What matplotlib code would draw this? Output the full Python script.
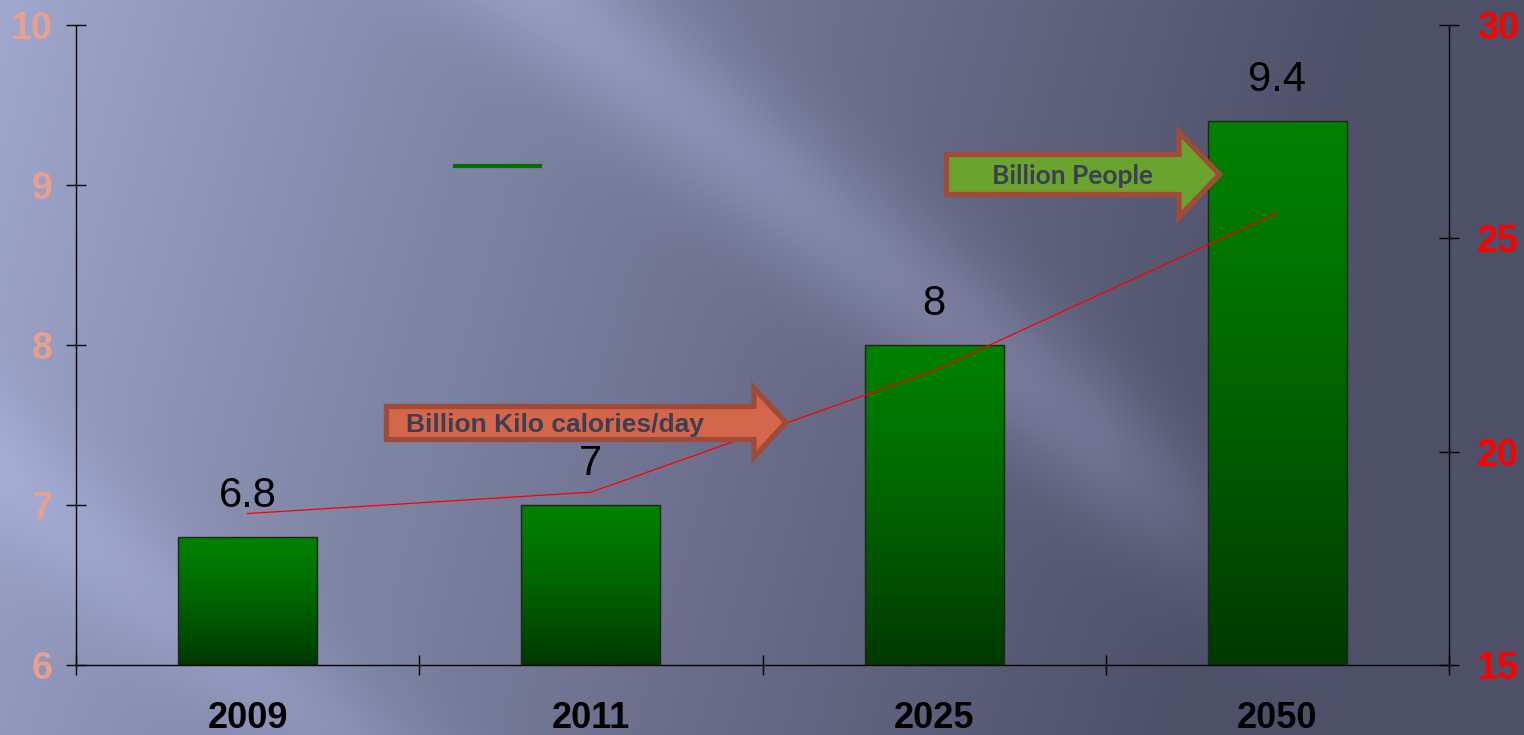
import numpy as np
import matplotlib
matplotlib.use("Agg")
import matplotlib.pyplot as plt
from matplotlib.patches import Polygon
from matplotlib.lines import Line2D

plt.rcParams['font.family'] = ['Liberation Sans', 'DejaVu Sans']

# -----------------------------
# Data
# -----------------------------
years = ["2009", "2011", "2025", "2050"]
people = [6.8, 7, 8, 9.4]            # billion people (left axis)
kcal = [18.55, 19.05, 21.9, 25.6]    # billion kilo calories / day (right axis)
people_ticks = [6, 7, 8, 9, 10]
kcal_ticks = [15, 20, 25, 30]

W, H = 1524, 735
fig = plt.figure(figsize=(W / 100, H / 100), dpi=100)

# -----------------------------
# Background (slide style gradient with diagonal streaks)
# -----------------------------
yy, xx = np.mgrid[0:H, 0:W].astype(float)
light = np.array([160, 168, 205]) / 255
dark = np.array([78, 80, 104]) / 255
t = np.clip(xx / W * 1.1 + yy / H * 0.15, 0, 1) ** 0.9
img = light + (dark - light) * t[..., None]
s = 0.8 * xx - yy
band1 = np.exp(-((s - 440) / 85) ** 2) * np.clip((1350 - xx) / 250, 0, 1)
band2 = np.exp(-((s + 470) / 80) ** 2)
img += band1[..., None] * np.array([0.10, 0.10, 0.12])
img += band2[..., None] * np.array([0.06, 0.06, 0.08])
img = np.clip(img, 0, 1)

bg = fig.add_axes([0, 0, 1, 1], zorder=-10)
bg.imshow(img, aspect='auto', extent=[0, W, H, 0])
bg.axis('off')

# -----------------------------
# Bars (left axis)
# -----------------------------
ax = fig.add_axes([76 / W, 70 / H, (1449 - 76) / W, (665 - 25) / H])
ax.set_facecolor('none')
x = np.arange(len(years))
bars = ax.bar(x, people, width=0.405, facecolor='none', edgecolor='#1c261c',
              linewidth=1, zorder=3)

# vertical green gradient inside each bar
g = np.linspace(0, 1, 256) ** 1.3
top = np.array([0, 128, 0]) / 255
bot = np.array([0, 56, 0]) / 255
grad = (top + (bot - top) * g[:, None])[:, None, :]
for b in bars:
    ax.imshow(grad, extent=[b.get_x(), b.get_x() + b.get_width(), 6, b.get_height()],
              aspect='auto', zorder=2, origin='upper')

for xi, v in zip(x, people):
    ax.annotate(f'{v:g}', (xi, v), xytext=(0, 21.6), textcoords='offset points',
                ha='center', va='baseline', fontsize=30, color='black')

ax.set_xlim(-0.5, 3.5)
ax.set_ylim(6, 10)
ax.set_xticks(x)
ax.set_xticklabels(years, fontsize=26, fontweight='bold')
ax.tick_params(axis='x', which='major', length=0, pad=26)
ax.set_xticks([-0.5, 0.5, 1.5, 2.5, 3.5], minor=True)
ax.tick_params(axis='x', which='minor', direction='inout', length=14, width=1)
ax.set_yticks(people_ticks)
ax.tick_params(axis='y', direction='inout', length=14, width=1, pad=10,
               labelsize=27, labelcolor='#E8A08C')
for lbl in ax.get_yticklabels():
    lbl.set_fontweight('bold')
for side in ['top', 'right']:
    ax.spines[side].set_visible(False)
for side in ['left', 'bottom']:
    ax.spines[side].set_color('black')
    ax.spines[side].set_linewidth(1)

# short legend handle left on the slide
ax.legend(handles=[Line2D([], [], color='#006e00', lw=3)], labels=[''],
          loc='center', bbox_to_anchor=(497.5 / W, 1 - 167 / H),
          bbox_transform=fig.transFigure, frameon=False, handlelength=6.1,
          handletextpad=0, borderpad=0, fontsize=10)

# -----------------------------
# Line (right axis)
# -----------------------------
ax2 = ax.twinx()
ax2.plot(x, kcal, color='red', linewidth=0.9)
ax2.set_ylim(15, 30)
ax2.set_yticks(kcal_ticks)
ax2.tick_params(axis='y', direction='inout', length=14, width=1, pad=13,
                labelsize=27, labelcolor='red')
for lbl in ax2.get_yticklabels():
    lbl.set_fontweight('bold')
for side in ['top', 'left', 'bottom']:
    ax2.spines[side].set_visible(False)
ax2.spines['right'].set_color('black')
ax2.spines['right'].set_linewidth(1)

# -----------------------------
# Arrow callouts
# -----------------------------
ov = fig.add_axes([0, 0, 1, 1], zorder=10)
ov.set_xlim(0, W)
ov.set_ylim(H, 0)
ov.axis('off')


def arrow_pts(x0, x1, xt, ytop, ybot, htop, hbot):
    return [(x0, ytop), (x1, ytop), (x1, htop), (xt, (htop + hbot) / 2),
            (x1, hbot), (x1, ybot), (x0, ybot)]


ov.add_patch(Polygon(arrow_pts(386.5, 754, 786, 406.5, 439.5, 388, 457),
                     closed=True, facecolor='#D4674B', edgecolor='#A04A38',
                     linewidth=3.8, joinstyle='miter'))
ov.text(555, 432, 'Billion Kilo calories/day', ha='center', va='baseline',
        fontsize=19, fontweight='bold', color='#3B3F52')

ov.add_patch(Polygon(arrow_pts(946.5, 1179, 1219.5, 154.5, 194.5, 132, 217),
                     closed=True, facecolor='#6BA32F', edgecolor='#A04B38',
                     linewidth=3.8, joinstyle='miter'))
ov.text(1073, 184, 'Billion People', ha='center', va='baseline',
        fontsize=19, fontweight='bold', color='#3B3F52', family=['Lato', 'DejaVu Sans'])

fig.savefig('out.png', dpi=100)
